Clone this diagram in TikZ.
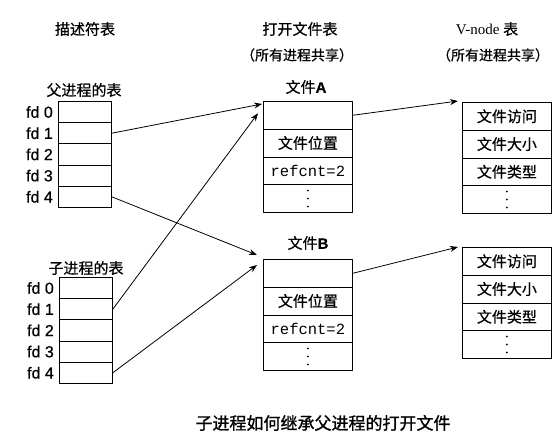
\documentclass[tikz,border=0pt]{standalone}
\usepackage{fontspec}
\setmainfont{Liberation Serif}
\newfontfamily\cjk{Noto Sans CJK SC}[FakeBold=0.6]
\newfontfamily\cjkcap{Noto Sans CJK SC}[FakeBold=1.2]
\newfontfamily\fdfont{Liberation Sans}[FakeBold=0.5]
\newfontfamily\mymono{Liberation Mono}
\usetikzlibrary{arrows.meta,calc}
\begin{document}
\begin{tikzpicture}[x=1pt,y=-1pt,
  fdcell/.style={draw,rectangle,minimum width=53pt,minimum height=21.2pt,inner sep=0pt,anchor=north west,line width=0.8pt},
  fcell/.style={draw,rectangle,minimum width=89pt,minimum height=27.75pt,inner sep=0pt,anchor=north west,line width=0.8pt,font=\cjk\fontsize{15}{15}\selectfont},
  fdlab/.style={anchor=east,inner sep=0pt,font=\fdfont\fontsize{16}{16}\selectfont},
  hdr/.style={inner sep=0pt,font=\cjk\fontsize{15}{15}\selectfont},
  subhdr/.style={inner sep=0pt,font=\cjk\fontsize{14}{14}\selectfont},
  flab/.style={inner sep=0pt,font=\cjk\fontsize{15}{15}\selectfont},
  mono/.style={font=\mymono\fontsize{15.5}{15.5}\selectfont},
  arr/.style={-{Stealth[length=8pt,width=6pt]},line width=0.8pt},
  dotmark/.style={fill=black}
]
\useasboundingbox (0,0) rectangle (554,439);

% headers
\node[hdr] (h1) at (85,29) {描述符表};
\node[hdr] (h2) at (300,29) {打开文件表};
\node[subhdr] (h3) at (297,55) {（所有进程共享）};
\node[inner sep=0pt,font=\fontsize{15}{15}\selectfont] (h4) at (487,29) {V-node {\cjk 表}};
\node[subhdr] (h5) at (493,55) {（所有进程共享）};

% parent table
\node[hdr] (plab) at (84,90) {父进程的表};
\foreach \i in {0,...,4}{
  \node[fdcell] (p\i) at (58,{101+21.2*\i}) {};
  \node[fdlab] (pl\i) at ($(p\i.west)+(-5,0)$) {fd \i};
}

% child table
\node[hdr] (clab) at (86,268) {子进程的表};
\foreach \i in {0,...,4}{
  \node[fdcell] (c\i) at (59,{277+21.2*\i}) {};
  \node[fdlab] (cl\i) at ($(c\i.west)+(-5,0)$) {fd \i};
}

% file A
\node[flab] (lA) at (306,87) {文件{\fdfont\bfseries A}};
\node[fcell] (fa1) at (263,101) {};
\node[fcell] (fa2) at (263,128.75) {文件位置};
\node[fcell,mono] (fa3) at (263,156.5) {refcnt=2};
\node[fcell] (fa4) at (263,184.25) {};
\foreach \d in {-8,0,8} \fill[dotmark] ($(fa4.center)+(0,\d)$) circle (1pt);

% file B
\node[flab] (lB) at (308,243) {文件{\fdfont\bfseries B}};
\node[fcell] (fb1) at (263,259) {};
\node[fcell] (fb2) at (263,286.75) {文件位置};
\node[fcell,mono] (fb3) at (263,314.5) {refcnt=2};
\node[fcell] (fb4) at (263,342.25) {};
\foreach \d in {-8,0,8} \fill[dotmark] ($(fb4.center)+(0,\d)$) circle (1pt);

% V-node A
\node[fcell] (vA1) at (462,102) {文件访问};
\node[fcell] (vA2) at (462,129.75) {文件大小};
\node[fcell] (vA3) at (462,157.5) {文件类型};
\node[fcell] (vA4) at (462,185.25) {};
\foreach \d in {-8,0,8} \fill[dotmark] ($(vA4.center)+(0,\d)$) circle (1pt);

% V-node B
\node[fcell] (vB1) at (462,247) {文件访问};
\node[fcell] (vB2) at (462,274.75) {文件大小};
\node[fcell] (vB3) at (462,302.5) {文件类型};
\node[fcell] (vB4) at (462,330.25) {};
\foreach \d in {-8,0,8} \fill[dotmark] ($(vB4.center)+(0,\d)$) circle (1pt);

% arrows
\draw[arr] (p1.east) -- ($(fa1.north west)+(-1,3)$);
\draw[arr] (c1.east) -- ($(fa1.west)+(-5,-2)$);
\draw[arr] (p4.east) -- ($(fb1.north west)+(-6,-4)$);
\draw[arr] (c4.east) -- ($(fb1.north west)+(-6,6)$);
\draw[arr] (fa1.east) -- ($(vA1.north west)+(-4,-1)$);
\draw[arr] (fb1.east) -- ($(vB1.north west)+(-4,0)$);

% caption
\node[inner sep=0pt,font=\cjkcap\fontsize{17}{17}\selectfont] (cap) at (323,423) {子进程如何继承父进程的打开文件};
\end{tikzpicture}
\end{document}
